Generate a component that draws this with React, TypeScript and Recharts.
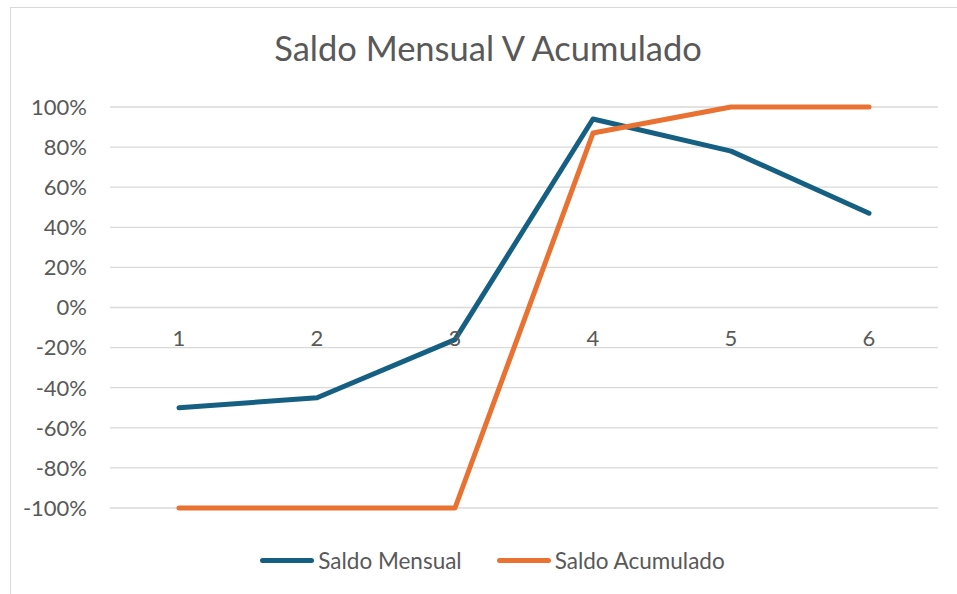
import { LineChart, Line, XAxis, YAxis, CartesianGrid, Legend, ReferenceDot } from "recharts";

const meses = ["1", "2", "3", "4", "5", "6"];
const saldoMensual = [-0.5, -0.45, -0.16, 0.94, 0.78, 0.47];
const saldoAcumulado = [-1, -1, -1, 0.87, 1, 1];
const yTicks = [-1, -0.8, -0.6, -0.4, -0.2, 0, 0.2, 0.4, 0.6, 0.8, 1];
const series = ["Saldo Mensual", "Saldo Acumulado"];

const BLUE = "#156082";
const ORANGE = "#E97132";
const TEXT = "#595959";
const FONT = "Lato, 'Open Sans', sans-serif";

const data = meses.map((mes, i) => ({
  mes,
  "Saldo Mensual": saldoMensual[i],
  "Saldo Acumulado": saldoAcumulado[i],
}));

function LegendContent({ payload }: any) {
  const items = [...(payload || [])].sort((a: any, b: any) => series.indexOf(a.value) - series.indexOf(b.value));
  return (
    <div style={{ display: "flex", justifyContent: "center", alignItems: "center", height: 30, gap: 35 }}>
      {items.map((p: any) => (
        <div key={p.value} style={{ display: "flex", alignItems: "center", gap: 4 }}>
          <span style={{ width: 54, height: 5, borderRadius: 3, background: p.color, display: "inline-block" }} />
          <span style={{ fontFamily: FONT, fontSize: 22.5, color: TEXT }}>{p.value}</span>
        </div>
      ))}
    </div>
  );
}

export default function App() {
  return (
    <div style={{ position: "absolute", left: 0, top: 0, width: 957, height: 594, overflow: "hidden", background: "#fff" }}>
      {/* chart frame, right and bottom edges fall outside the picture */}
      <div style={{ position: "absolute", left: 10, top: 7, width: 980, height: 620, border: "1px solid #d9d9d9" }} />
      <div
        style={{
          position: "absolute", left: 0, top: 27, width: 976, textAlign: "center",
          fontFamily: FONT, fontSize: 34.5, color: TEXT, lineHeight: "42px",
        }}
      >
        Saldo Mensual V Acumulado
      </div>
      <div style={{ position: "absolute", left: 0, top: 0 }}>
        <LineChart width={957} height={594} data={data} margin={{ top: 107, right: 19, bottom: 56, left: 10 }}>
          <CartesianGrid horizontal vertical={false} stroke="#d9d9d9" strokeWidth={1.3} />
          <XAxis dataKey="mes" type="category" hide padding={{ left: 69, right: 69 }} />
          <YAxis
            domain={[-1, 1]}
            ticks={yTicks}
            interval={0}
            width={100}
            axisLine={false}
            tickLine={false}
            tickSize={0}
            tickMargin={23}
            tickFormatter={(v: number) => `${Math.round(v * 100)}%`}
            tick={{ fill: TEXT, fontSize: 22, fontFamily: FONT }}
          />
          {meses.map((m) => (
            <ReferenceDot
              key={m}
              x={m}
              y={0}
              r={0}
              fill="none"
              stroke="none"
              ifOverflow="visible"
              label={{ value: m, position: "bottom", offset: 23, fill: TEXT, fontSize: 22, fontFamily: FONT }}
            />
          ))}
          <Line
            type="linear"
            dataKey="Saldo Mensual"
            stroke={BLUE}
            strokeWidth={5}
            strokeLinecap="round"
            strokeLinejoin="round"
            dot={false}
            isAnimationActive={false}
          />
          <Line
            type="linear"
            dataKey="Saldo Acumulado"
            stroke={ORANGE}
            strokeWidth={5}
            strokeLinecap="round"
            strokeLinejoin="round"
            dot={false}
            isAnimationActive={false}
          />
          <Legend
            verticalAlign="bottom"
            content={<LegendContent />}
            wrapperStyle={{ top: 545, bottom: "auto", left: 14, width: 957 }}
          />
        </LineChart>
      </div>
    </div>
  );
}
